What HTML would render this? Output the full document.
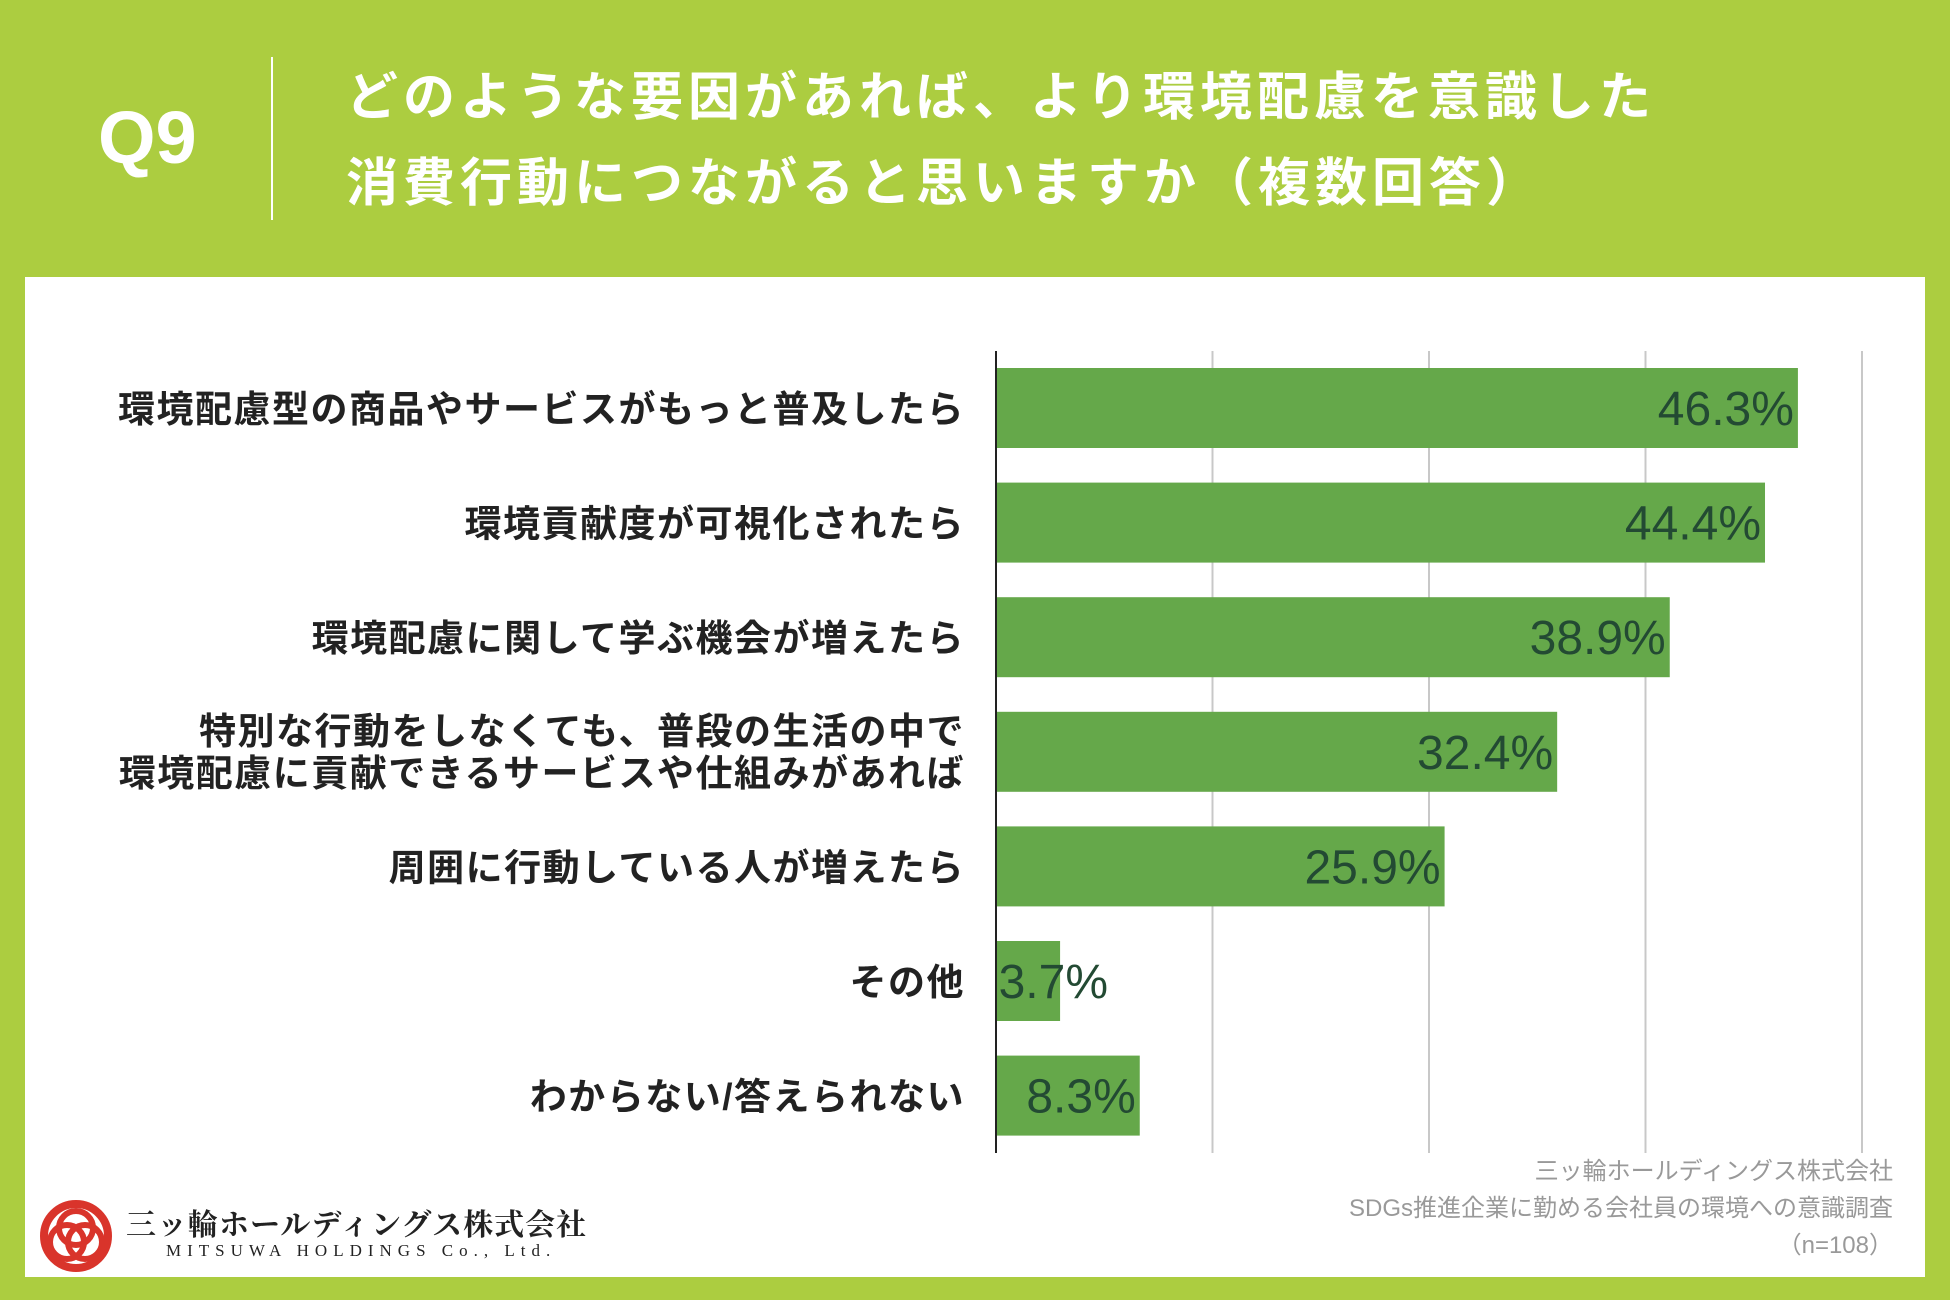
<!DOCTYPE html>
<html><head><meta charset="utf-8"><style>
body{margin:0;width:1950px;height:1300px;background:#accd40;position:relative;overflow:hidden;font-family:"Liberation Sans","Noto Sans CJK JP",sans-serif}
.abs{position:absolute}
</style></head><body>
<div class="abs" style="left:98px;top:95px;font-size:74px;font-weight:bold;color:#fff">Q9</div>
<div class="abs" style="left:271px;top:57px;width:2px;height:163px;background:#fff"></div>
<div class="abs" style="left:346px;top:55px;font-size:52px;font-weight:bold;color:#fff;line-height:86px;letter-spacing:5px;white-space:nowrap">どのような要因があれば、より環境配慮を意識した<br>消費行動につながると思いますか（複数回答）</div>
<div class="abs" style="left:25px;top:277px;width:1900px;height:1000px;background:#fff"></div>
<svg class="abs" style="left:0;top:0" width="1950" height="1300">
<g id="grid"></g><g id="bars"></g><g id="labels"></g>
</svg>
<div class="abs" style="right:57px;top:1153px;text-align:right;font-size:24px;color:#999;line-height:37px;white-space:nowrap">三ッ輪ホールディングス株式会社<br>SDGs推進企業に勤める会社員の環境への意識調査<br>（n=108）</div>
<svg class="abs" style="left:38px;top:1198px" width="76" height="76">
<circle cx="38" cy="38" r="32" fill="none" stroke="#d9342b" stroke-width="8"/>
<circle cx="38" cy="30" r="17" fill="none" stroke="#d9342b" stroke-width="6"/>
<circle cx="29" cy="44" r="17" fill="none" stroke="#d9342b" stroke-width="6"/>
<circle cx="47" cy="44" r="17" fill="none" stroke="#d9342b" stroke-width="6"/>
</svg>
<div class="abs" style="left:126px;top:1200px;font-size:30px;font-weight:bold;color:#222;font-family:'Liberation Serif','Noto Serif CJK SC',serif;letter-spacing:1px;white-space:nowrap">三ッ輪ホールディングス株式会社</div>
<div class="abs" style="left:166px;top:1241px;font-size:17px;color:#222;font-family:'Liberation Serif',serif;letter-spacing:6px;white-space:nowrap">MITSUWA HOLDINGS Co., Ltd.</div>
<script>
const categories=["環境配慮型の商品やサービスがもっと普及したら","環境貢献度が可視化されたら","環境配慮に関して学ぶ機会が増えたら","特別な行動をしなくても、普段の生活の中で|環境配慮に貢献できるサービスや仕組みがあれば","周囲に行動している人が増えたら","その他","わからない/答えられない"];
const values=[46.3,44.4,38.9,32.4,25.9,3.7,8.3];
const valueLabels=["46.3%","44.4%","38.9%","32.4%","25.9%","3.7%","8.3%"];
const gridTicks=[12.5,25,37.5,50];
const NS="http://www.w3.org/2000/svg";
const x0=996,xMax=1862,vMax=50,yTop=351,yBot=1153,pitch=114.6,barH=80,firstY=368;
const xs=v=>x0+(xMax-x0)*v/vMax;
const ys=i=>firstY+i*pitch;
function mk(t,a){const e=document.createElementNS(NS,t);for(const k in a)e.setAttribute(k,a[k]);return e;}
const grid=document.getElementById('grid'),bars=document.getElementById('bars'),labs=document.getElementById('labels');
gridTicks.forEach(t=>{const l=mk('line',{x1:xs(t),x2:xs(t),y1:yTop,y2:yBot,stroke:'#c8c8c8','stroke-width':2});


grid.appendChild(l);});
values.forEach((v,i)=>{
const r=mk('rect',{x:x0,y:ys(i),width:xs(v)-x0,height:barH,fill:'#65a84a'});


bars.appendChild(r);
const end=xs(v)-4;const w=valueLabels[i].length*26.5;
const tx=Math.max(end,x0+6+w);
const t=mk('text',{x:tx,y:ys(i)+barH/2+17,'text-anchor':'end','font-size':48,fill:'#234a33'});
t.textContent=valueLabels[i];


labs.appendChild(t);
const parts=categories[i].split('|');
parts.forEach((p,j)=>{
const dy=parts.length>1?(j===0?-8:34):14;
const c=mk('text',{x:965,y:ys(i)+barH/2+dy,'text-anchor':'end','font-size':37,'font-weight':'bold',fill:'#222','letter-spacing':1.5});
c.textContent=p;


labs.appendChild(c);});
});
const ax=mk('line',{x1:x0,x2:x0,y1:yTop,y2:yBot,stroke:'#222','stroke-width':2});


labs.appendChild(ax);
</script>
</body></html>
